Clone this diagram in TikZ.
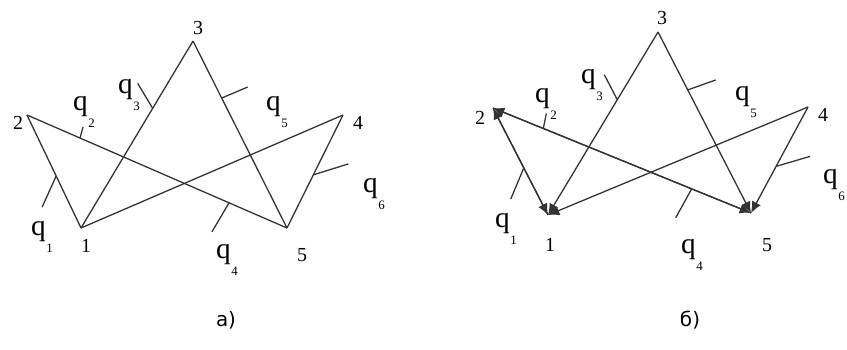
\documentclass[tikz,border=0pt]{standalone}
\usepackage{fontspec}
\setmainfont{Liberation Serif}
\newfontfamily\capfont{DejaVu Sans}
\usepackage{tikz}
\usetikzlibrary{arrows.meta, calc}

\newcommand{\qlab}[1]{q\kern0.5pt\raisebox{-15pt}{\fontsize{11}{11}\selectfont #1}}

\begin{document}
\begin{tikzpicture}[
    x=0.3mm, y=-0.3mm,
    edge/.style={draw=black!80, line width=1.1pt},
    tick/.style={draw=black!80, line width=1.1pt},
    tip/.style={-{Latex[length=3.4mm, width=3mm]}},
    numlbl/.style={font=\fontsize{17}{17}\selectfont, inner sep=0pt},
    qlbl/.style={font=\fontsize{25}{25}\selectfont, inner sep=0pt, anchor=base west},
    caplbl/.style={font=\capfont\fontsize{17}{17}\selectfont, inner sep=0pt}
]
\useasboundingbox (0,0) rectangle (847,349);
\clip (0,0) rectangle (847,349);

% Left figure a)
\coordinate (v1a) at (81,228);
\coordinate (v2a) at (27,115);
\coordinate (v3a) at (193,41);
\coordinate (v4a) at (343,115);
\coordinate (v5a) at (287,228);

\draw[edge] (v2a) -- (v1a);
\draw[edge] (v2a) -- (v5a);
\draw[edge] (v1a) -- (v3a);
\draw[edge] (v3a) -- (v5a);
\draw[edge] (v1a) -- (v4a);
\draw[edge] (v4a) -- (v5a);

\draw[tick] ($(v2a)!0.54!(v1a)$) -- +(-14,31);
\draw[tick] ($(v2a)!0.204!(v5a)$) -- +(3,-11);
\draw[tick] ($(v1a)!0.64!(v3a)$) -- +(-15,-25);
\draw[tick] ($(v3a)!0.305!(v5a)$) -- +(26,-11);
\draw[tick] ($(v2a)!0.777!(v5a)$) -- +(-17,29);
\draw[tick] ($(v4a)!0.53!(v5a)$) -- +(35,-11);

\node[numlbl] (n1a) at (86,246) {1};
\node[numlbl] (n2a) at (18,123) {2};
\node[numlbl] (n3a) at (198,28) {3};
\node[numlbl] (n4a) at (358,123) {4};
\node[numlbl] (n5a) at (302,255) {5};

\node[qlbl] (q1a) at (31,235) {\qlab{1}};
\node[qlbl] (q2a) at (73,110) {\qlab{2}};
\node[qlbl] (q3a) at (118,93) {\qlab{3}};
\node[qlbl] (q5a) at (266,110) {\qlab{5}};
\node[qlbl] (q4a) at (216,258) {\qlab{4}};
\node[qlbl] (q6a) at (363,192) {\qlab{6}};

\node[caplbl] (capa) at (226,320) {а)};

% Right figure b)
\coordinate (v1b) at (548,215);
\coordinate (v2b) at (493,108);
\coordinate (v3b) at (658,32);
\coordinate (v4b) at (808,107);
\coordinate (v5b) at (751,213);

\draw[edge, tip] (v1b) -- (v2b);
\draw[edge, tip] (v2b) -- (v1b);
\draw[edge, tip] (v5b) -- (v2b);
\draw[edge, tip] (v2b) -- (v5b);
\draw[edge, tip] (v3b) -- (v1b);
\draw[edge, tip] (v3b) -- (v5b);
\draw[edge, tip] (v4b) -- (v1b);
\draw[edge, tip] (v4b) -- (v5b);

\draw[tick] ($(v2b)!0.56!(v1b)$) -- +(-13,31);
\draw[tick] ($(v2b)!0.195!(v5b)$) -- +(3,-15);
\draw[tick] ($(v1b)!0.63!(v3b)$) -- +(-13,-25);
\draw[tick] ($(v3b)!0.32!(v5b)$) -- +(28,-10);
\draw[tick] ($(v2b)!0.77!(v5b)$) -- +(-16,29);
\draw[tick] ($(v4b)!0.56!(v5b)$) -- +(34,-10);

\node[numlbl] (n1b) at (550,245) {1};
\node[numlbl] (n2b) at (480,118) {2};
\node[numlbl] (n3b) at (662,18) {3};
\node[numlbl] (n4b) at (823,115) {4};
\node[numlbl] (n5b) at (767,245) {5};

\node[qlbl] (q1b) at (495,227) {\qlab{1}};
\node[qlbl] (q2b) at (535,102) {\qlab{2}};
\node[qlbl] (q3b) at (581,83) {\qlab{3}};
\node[qlbl] (q5b) at (735,100) {\qlab{5}};
\node[qlbl] (q4b) at (681,253) {\qlab{4}};
\node[qlbl] (q6b) at (823,183) {\qlab{6}};

\node[caplbl] (capb) at (690,320) {б)};

\end{tikzpicture}
\end{document}
